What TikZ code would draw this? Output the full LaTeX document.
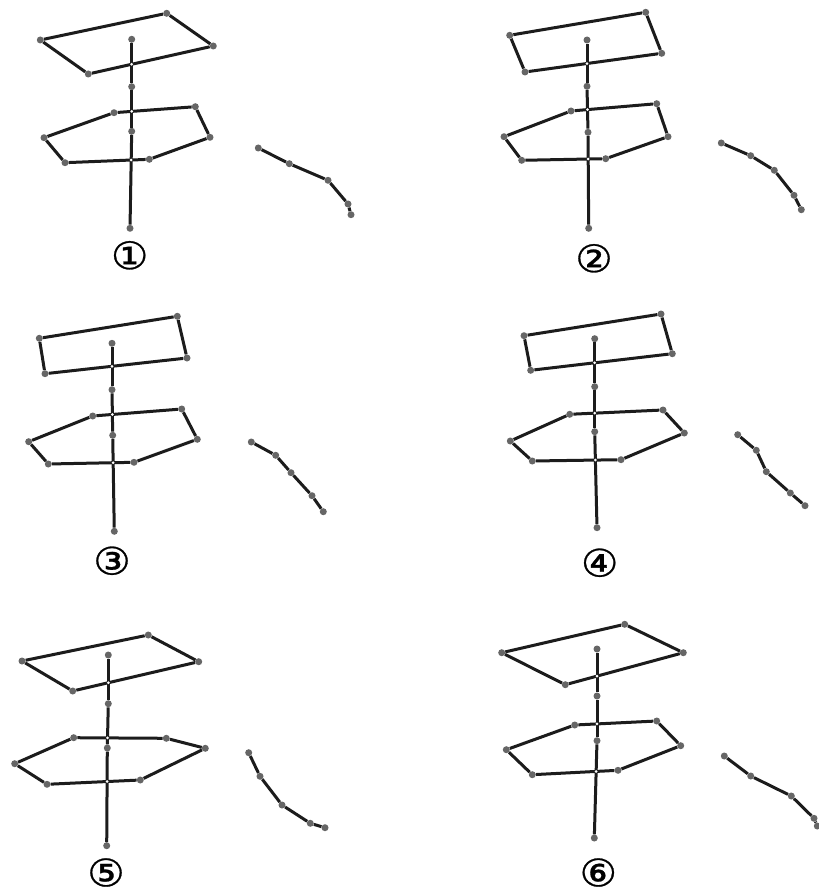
\documentclass[tikz,border=0pt]{standalone}
\usepackage{fontspec}
\usepackage{graphicx}
\newfontfamily\circfont[FakeBold=0.7]{DejaVu Sans}
\definecolor{jointgrey}{HTML}{666666}
\definecolor{barink}{HTML}{1C1C1C}
\tikzset{
  joint/.style={circle,fill=jointgrey,draw=none,inner sep=0pt,minimum size=7pt},
  bar/.style={draw=barink,line width=3pt},
  crossdot/.style={circle,fill=white,draw=none,inner sep=0pt,minimum size=3pt},
  numlabel/.style={inner sep=0pt,font=\circfont\fontsize{38}{38}\selectfont,text=black}
}
% #1 id, #2 rectangle, #3 pole, #4 hexagon, #5 chain, #6 label position, #7 label
\newcommand{\figpanel}[7]{%
  \foreach \p [count=\i] in {#2} \node[joint] (#1r\i) at \p {};
  \foreach \p [count=\i] in {#3} \node[joint] (#1p\i) at \p {};
  \foreach \p [count=\i] in {#4} \node[joint] (#1h\i) at \p {};
  \foreach \p [count=\i] in {#5} \node[joint] (#1c\i) at \p {};
  \draw[bar] (#1r1)--(#1r2);
  \draw[bar] (#1r2)--(#1r3);
  \draw[bar] (#1r3)--(#1r4);
  \draw[bar] (#1r4)--(#1r1);
  \draw[bar] (#1h1)--(#1h2);
  \draw[bar] (#1h2)--(#1h3);
  \draw[bar] (#1h3)--(#1h4);
  \draw[bar] (#1h4)--(#1h5);
  \draw[bar] (#1h5)--(#1h6);
  \draw[bar] (#1h6)--(#1h1);
  \draw[bar] (#1p1)--(#1p2);
  \draw[bar] (#1p2)--(#1p3);
  \draw[bar] (#1p3)--(#1p4);
  \draw[bar] (#1c1)--(#1c2);
  \draw[bar] (#1c2)--(#1c3);
  \draw[bar] (#1c3)--(#1c4);
  \draw[bar] (#1c4)--(#1c5);
  \node[crossdot] (#1xa) at (intersection of #1p1.center--#1p2.center and #1r3.center--#1r4.center) {};
  \node[crossdot] (#1xb) at (intersection of #1p2.center--#1p3.center and #1h1.center--#1h2.center) {};
  \node[crossdot] (#1xc) at (intersection of #1p3.center--#1p4.center and #1h4.center--#1h5.center) {};
  \node[numlabel] (#1n) at #6 {\scalebox{1.1}[1]{#7}};
}
\begin{document}
\begin{tikzpicture}[x=1pt,y=-1pt]
\useasboundingbox[fill=white] (0,0) rectangle (818,890);
\figpanel{a}
 {(40.3,40),(166.7,13.3),(213.3,46),(88.3,74)}
 {(131.7,39.3),(131.7,86.7),(131.7,131.3),(130,228.3)}
 {(114,112.7),(195.3,106.7),(210,137.3),(149.3,159.3),(65,162.7),(44,137.7)}
 {(258.3,148),(289.3,163.7),(328,180.3),(348,204),(351,214.7)}
 {(129.7,255.3)}{①}
\figpanel{b}
 {(509.7,35.3),(645.7,12.3),(661.7,53.3),(525,72)}
 {(587,40),(587,86.3),(588,132.3),(588.7,228.3)}
 {(571,111),(656.7,103.7),(668,136.7),(605.7,158.7),(521.7,160.3),(504,136.7)}
 {(721.3,143),(750.7,155.7),(774.3,170.3),(794,195.3),(801.3,209.7)}
 {(594,258.3)}{②}
\figpanel{c}
 {(39.3,338.3),(177.3,316.3),(187,358),(45,373.7)}
 {(112,343.3),(112,389.7),(112.7,435.3),(114.3,531.3)}
 {(92.7,416),(181.7,409),(197.3,439.3),(134,462.3),(48.3,464),(28.7,441.7)}
 {(251.3,442),(275.7,455.3),(291,472.7),(312,495.7),(323.3,511.7)}
 {(112,560.7)}{③}
\figpanel{d}
 {(524,335.7),(661,314),(672.3,353.7),(530.7,370.3)}
 {(594.7,338.7),(594.7,386.7),(594.7,431.7),(597,527.7)}
 {(569.7,414.3),(663,410),(684.3,433),(621,459.7),(532.3,461),(510.3,441)}
 {(737.7,434.7),(756.3,450.3),(766.3,471.7),(790.3,493),(805,505.7)}
 {(599.7,562.7)}{④}
\figpanel{e}
 {(22,661),(148.3,635),(198.7,661.7),(72.7,691)}
 {(108.3,655),(108.3,703.7),(107.3,748),(106.7,845.7)}
 {(73.7,737.7),(166.3,738.3),(205.3,748.3),(140.3,780),(47,784.3),(14.7,763.7)}
 {(248.7,752.7),(260,776.3),(282,805),(310.3,823.3),(325,827.7)}
 {(106,872.5)}{⑤}
\figpanel{f}
 {(501.7,652.7),(624.7,624.3),(683.3,652.7),(565.3,684.7)}
 {(597,649),(597,696),(597,740.7),(594.3,838)}
 {(574.7,725),(656.7,721),(680.7,745.7),(618,770.3),(532.3,774.7),(506.3,749.7)}
 {(724.3,756),(750.7,776),(791.3,796),(814,818.3),(817.3,826)}
 {(598.3,872.5)}{⑥}
\end{tikzpicture}
\end{document}
